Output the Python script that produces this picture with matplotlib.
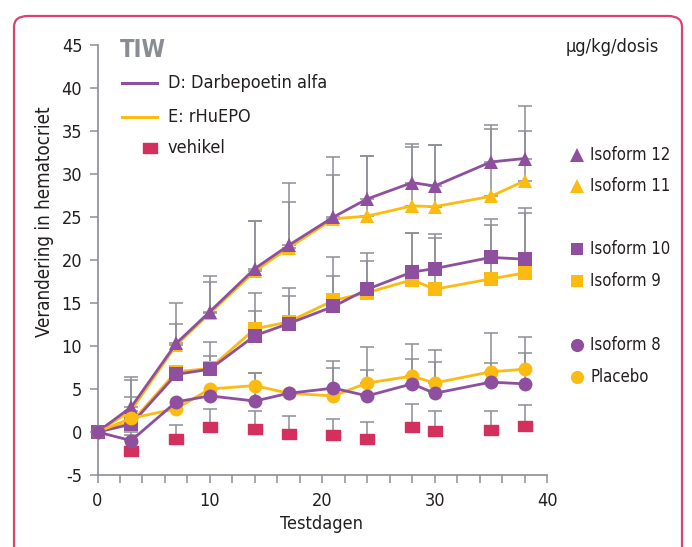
import matplotlib.pyplot as plt
import numpy as np
from matplotlib.lines import Line2D
from matplotlib.patches import FancyBboxPatch

plt.rcParams['font.family'] = ['DejaVu Sans']
plt.rcParams['font.stretch'] = 'condensed'
plt.rcParams['axes.unicode_minus'] = False

# testdagen
days = [0, 3, 7, 10, 14, 17, 21, 24, 28, 30, 35, 38]

# Darbepoetin alfa (paars) / rHuEPO (geel)
iso12 = [0, 2.9, 10.3, 14.0, 19.0, 21.7, 25.0, 27.1, 29.0, 28.6, 31.4, 31.8]
iso11 = [0, 2.5, 10.1, 13.8, 18.7, 21.4, 24.8, 25.1, 26.3, 26.2, 27.4, 29.2]
iso10 = [0, 0.9, 6.7, 7.3, 11.2, 12.6, 14.6, 16.6, 18.6, 19.0, 20.3, 20.1]
iso9 = [0, 1.1, 7.0, 7.4, 12.0, 12.8, 15.3, 16.2, 17.7, 16.6, 17.8, 18.5]
iso8 = [0, -1.0, 3.5, 4.2, 3.6, 4.5, 5.1, 4.2, 5.6, 4.5, 5.8, 5.6]
placebo = [0, 1.6, 2.7, 5.0, 5.4, 4.5, 4.2, 5.7, 6.5, 5.7, 7.0, 7.3]
vehikel = [np.nan, -2.2, -0.8, 0.6, 0.35, -0.2, -0.35, -0.85, 0.55, 0.1, 0.2, 0.7]

cap12 = [0, 6.4, 15.0, 18.1, 24.5, 29.0, 32.0, 32.1, 33.5, 33.4, 35.7, 37.9]
cap11 = [0, 6.0, 12.6, 17.4, 24.5, 26.7, 29.9, 32.1, 33.1, 33.4, 35.2, 35.0]
cap10 = [0, 4.1, 0, 10.5, 16.2, 16.8, 20.3, 20.8, 23.1, 23.0, 24.8, 26.0]
cap9 = [0, 0, 0, 8.8, 14.1, 15.8, 18.1, 19.9, 23.1, 22.6, 24.1, 25.5]
cap8 = [0, 0, 0, 0, 6.9, 0, 8.2, 9.9, 10.2, 9.5, 11.5, 11.1]
cap_plc = [0, 0, 0, 0, 6.9, 0, 7.4, 7.2, 8.5, 8.1, 8.0, 9.2]
cap_veh = [0, -0.4, 0.8, 2.7, 2.4, 1.9, 1.5, 1.2, 3.3, 2.4, 2.4, 3.1]

purple = '#8e4f9f'
yellow = '#fbbb10'
crimson = '#d3305d'
grey = '#8b8e96'
txt = '#231f20'

W, H = 692, 547
fig = plt.figure(figsize=(W / 100, H / 100), dpi=100)


def fx(px):
    return px / W


def fy(py):
    return 1 - py / H


# rode kader
fig.patches.append(FancyBboxPatch((fx(14), fy(600)), fx(668), fy(16) - fy(600),
                                  boxstyle='round,pad=0,rounding_size=0.02',
                                  transform=fig.transFigure, fill=False,
                                  edgecolor='#d9436e', linewidth=1.6))

ax = fig.add_axes([fx(97.5), fy(475), fx(547) - fx(97.5), fy(45) - fy(475)])
ax.set_xlim(0, 40)
ax.set_ylim(-5, 45)


def errs(vals, caps):
    v = np.array(vals, dtype=float)
    c = np.array(caps, dtype=float)
    up = np.where(c > v, c - v, 0)
    up = np.nan_to_num(up)
    return [np.zeros_like(up), up]


series = [
    (iso11, cap11, yellow, '^'), (iso12, cap12, purple, '^'),
    (iso9, cap9, yellow, 's'), (iso10, cap10, purple, 's'),
    (placebo, cap_plc, yellow, 'o'), (iso8, cap8, purple, 'o'),
]

for vals, caps, col, m in series + [(vehikel, cap_veh, crimson, 's')]:
    e = errs(vals, caps)
    mask = e[1] > 0
    ax.errorbar(np.array(days)[mask], np.array(vals)[mask],
                yerr=[e[0][mask], e[1][mask]], fmt='none', ecolor=grey,
                elinewidth=1.1, capsize=4.7, capthick=1.1, zorder=1)

rect = [(-1, -0.62), (1, -0.62), (1, 0.62), (-1, 0.62), (-1, -0.62)]
ax.plot(days, vehikel, linestyle='none', marker=rect, markersize=10.5,
        color=crimson, zorder=3, clip_on=False)

for vals, caps, col, m in series:
    ms = 9.5 if m == 's' else 10
    ax.plot(days, vals, color=col, linewidth=2, marker=m, markersize=ms,
            markeredgewidth=0, zorder=4, clip_on=False)

for s in ['top', 'right']:
    ax.spines[s].set_visible(False)
for s in ['left', 'bottom']:
    ax.spines[s].set_color(grey)
    ax.spines[s].set_linewidth(1.2)

ax.set_yticks(np.arange(-5, 46, 5))
ax.set_xticks([0, 10, 20, 30, 40])
ax.set_xticks(np.arange(0, 41, 2), minor=True)
ax.tick_params(axis='both', which='both', color=grey, width=1.1, length=6,
               labelsize=13, labelcolor=txt, direction='out')
ax.tick_params(axis='x', pad=6)
ax.tick_params(axis='y', pad=5)

fig.text(fx(45), fy(222), 'Verandering in hematocriet', rotation=90,
         ha='center', va='center', fontsize=13.5, color=txt)
fig.text(fx(322), fy(524), 'Testdagen', ha='center', va='center',
         fontsize=13, color=txt)

fig.text(fx(120), fy(50), 'TIW', ha='left', va='center', fontsize=17,
         fontweight='bold', color='#8a8c93')
fig.text(fx(566), fy(47), 'µg/kg/dosis', ha='left', va='center',
         fontsize=13, color=txt)

# legenda links
fig.add_artist(Line2D([fx(122), fx(157)], [fy(83), fy(83)], color=purple, linewidth=2.2))
fig.add_artist(Line2D([fx(122), fx(157)], [fy(117), fy(117)], color=yellow, linewidth=2.2))
fig.add_artist(Line2D([fx(150)], [fy(148)], marker=rect, markersize=10.5,
                      color=crimson, linestyle='none'))
fig.text(fx(168), fy(83), 'D: Darbepoetin alfa', ha='left', va='center', fontsize=13, color=txt)
fig.text(fx(168), fy(117), 'E: rHuEPO', ha='left', va='center', fontsize=13, color=txt)
fig.text(fx(168), fy(148), 'vehikel', ha='left', va='center', fontsize=13, color=txt)

# legenda rechts
right_items = [
    ('Isoform 12', purple, '^', 155), ('Isoform 11', yellow, '^', 186),
    ('Isoform 10', purple, 's', 249), ('Isoform 9', yellow, 's', 281),
    ('Isoform 8', purple, 'o', 345), ('Placebo', yellow, 'o', 377),
]
for label, col, m, py in right_items:
    ms = 9.5 if m != 's' else 8
    fig.add_artist(Line2D([fx(577)], [fy(py)], marker=m, markersize=ms,
                          color=col, markeredgewidth=0, linestyle='none'))
    fig.text(fx(590), fy(py), label, ha='left', va='center', fontsize=12, color=txt)

fig.savefig('out.png', dpi=100)
